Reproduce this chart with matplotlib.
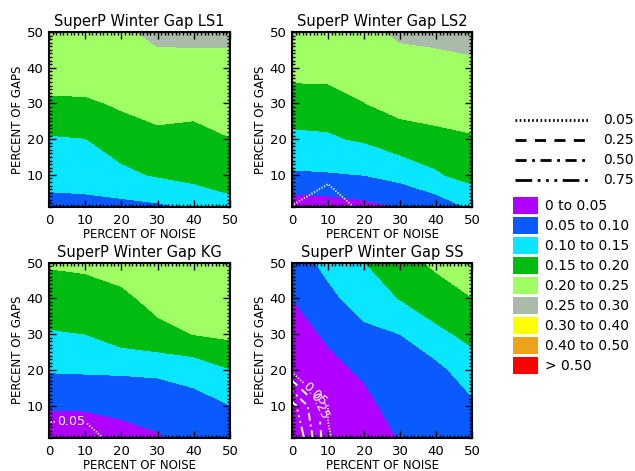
import numpy as np
import matplotlib.pyplot as plt
from matplotlib.patches import Rectangle

# grid: columns = percent of noise, rows = percent of gaps
noise = [0, 10, 20, 30, 40, 50]
gaps = [1, 10, 20, 30, 40, 50]

ls1 = [[0.080, 0.080, 0.085, 0.092, 0.105, 0.130],
       [0.122, 0.129, 0.141, 0.154, 0.167, 0.179],
       [0.145, 0.149, 0.169, 0.190, 0.185, 0.198],
       [0.190, 0.190, 0.208, 0.215, 0.214, 0.238],
       [0.235, 0.240, 0.235, 0.240, 0.240, 0.245],
       [0.245, 0.248, 0.245, 0.257, 0.2575, 0.2538]]

ls2 = [[0.019, 0.026, 0.036, 0.0505, 0.070, 0.1075],
       [0.095, 0.096, 0.1007, 0.116, 0.145, 0.167],
       [0.131, 0.145, 0.155, 0.177, 0.176, 0.195],
       [0.1965, 0.169, 0.199, 0.217, 0.239, 0.226],
       [0.2025, 0.226, 0.224, 0.235, 0.245, 0.245],
       [0.230, 0.245, 0.240, 0.2564, 0.254, 0.2593]]

kg = [[0.030, 0.030, 0.035, 0.048, 0.055, 0.060],
      [0.053, 0.054, 0.061, 0.0586, 0.080, 0.099],
      [0.104, 0.106, 0.107, 0.112, 0.120, 0.148],
      [0.145, 0.150, 0.175, 0.187, 0.201, 0.210],
      [0.181, 0.180, 0.190, 0.214, 0.230, 0.230],
      [0.204, 0.209, 0.220, 0.230, 0.240, 0.240]]

ss = [[0.010, 0.015, 0.030, 0.052, 0.060, 0.070],
      [0.015, 0.025, 0.040, 0.065, 0.070, 0.090],
      [0.025, 0.040, 0.0554, 0.080, 0.0844, 0.130],
      [0.035, 0.055, 0.090, 0.100, 0.140, 0.161],
      [0.050, 0.090, 0.1186, 0.1521, 0.173, 0.1995],
      [0.080, 0.111, 0.149, 0.180, 0.210, 0.220]]

# second field drawn as white contour lines
ls1_sig = [[0, 0, 0, 0, 0, 0],
           [0, 0, 0, 0, 0, 0],
           [0, 0, 0, 0, 0, 0],
           [0, 0, 0, 0, 0, 0],
           [0, 0, 0, 0, 0, 0],
           [0, 0, 0, 0, 0, 0]]

ls2_sig = [[0.052, 0.10, 0.03, 0, 0, 0],
           [0.010, 0.03, 0, 0, 0, 0],
           [0, 0, 0, 0, 0, 0],
           [0, 0, 0, 0, 0, 0],
           [0, 0, 0, 0, 0, 0],
           [0, 0, 0, 0, 0, 0]]

kg_sig = [[0.10, 0.10, 0, 0, 0, 0],
          [0, 0, 0, 0, 0, 0],
          [0, 0, 0, 0, 0, 0],
          [0, 0, 0, 0, 0, 0],
          [0, 0, 0, 0, 0, 0],
          [0, 0, 0, 0, 0, 0]]

ss_sig = [[1.10, 0.055, 0, 0, 0, 0],
          [0.85, 0.045, 0, 0, 0, 0],
          [0, 0, 0, 0, 0, 0],
          [0, 0, 0, 0, 0, 0],
          [0, 0, 0, 0, 0, 0],
          [0, 0, 0, 0, 0, 0]]

titles = ['SuperP Winter Gap LS1', 'SuperP Winter Gap LS2',
          'SuperP Winter Gap KG', 'SuperP Winter Gap SS']
fields = [ls1, ls2, kg, ss]
sig_fields = [ls1_sig, ls2_sig, kg_sig, ss_sig]
# label positions for the line contours (level, x, y)
sig_labels = [[], [], [(0.05, 6, 5.5)], [(0.05, 6.5, 13.5), (0.25, 7.5, 10)]]

fill_levels = [0, 0.05, 0.10, 0.15, 0.20, 0.25, 0.30, 0.40, 0.50, 10]
fill_colors = ['#b000ff', '#0a5aff', '#0ae6ff', '#00bb10', '#a0ff64',
               '#aabbaa', '#ffff00', '#eaa31a', '#ff0000']
fill_names = ['0 to 0.05', '0.05 to 0.10', '0.10 to 0.15', '0.15 to 0.20',
              '0.20 to 0.25', '0.25 to 0.30', '0.30 to 0.40', '0.40 to 0.50',
              '> 0.50']

line_levels = [0.05, 0.25, 0.50, 0.75]
line_names = ['0.05', '0.25', '0.50', '0.75']
line_styles = [(0, (0.6, 0.9)), (0, (4, 3)), (0, (4, 2, 1, 2)),
               (0, (6, 2, 1, 2, 1, 2, 1, 2))]

fig = plt.figure(figsize=(6.35, 4.71), dpi=100)

W, H = 635.0, 471.0
boxes = [(49, 32, 181, 175), (292, 32, 180, 175),
         (49, 262.5, 181, 175.5), (292, 262.5, 180, 175.5)]

X, Y = np.meshgrid(noise, gaps)

for i in range(4):
    bx, by, bw, bh = boxes[i]
    ax = fig.add_axes([bx / W, 1 - (by + bh) / H, bw / W, bh / H])
    Z = np.array(fields[i])
    ax.contourf(X, Y, Z, levels=fill_levels, colors=fill_colors)

    S = np.array(sig_fields[i], dtype=float)
    for lev, lsty in zip(line_levels, line_styles):
        if S.max() <= lev:
            continue
        cs = ax.contour(X, Y, S, levels=[lev], colors='white',
                        linestyles=[lsty], linewidths=1.4)
        pos = [(px, py) for (lv, px, py) in sig_labels[i] if lv == lev]
        if pos:
            ax.clabel(cs, fmt='%.2f', manual=pos, fontsize=9, colors='white',
                      inline=True, inline_spacing=2)

    ax.set_xlim(0, 50)
    ax.set_ylim(1, 50)
    ax.set_xticks([0, 10, 20, 30, 40, 50])
    ax.set_yticks([10, 20, 30, 40, 50])
    ax.set_xticks(np.arange(0, 51, 1), minor=True)
    ax.set_yticks(np.arange(1, 51, 1), minor=True)
    ax.tick_params(which='both', direction='in', top=True, right=True,
                   labelsize=9.5, width=1, color='black')
    ax.tick_params(which='major', length=5)
    ax.tick_params(axis='x', which='major', pad=5)
    ax.tick_params(axis='y', which='major', pad=4)
    ax.tick_params(which='minor', length=2.5)
    for sp in ax.spines.values():
        sp.set_linewidth(1.5)
    ax.set_title(titles[i], fontsize=10.5, pad=4)
    ax.set_xlabel('PERCENT OF NOISE', fontsize=8.5, labelpad=0.5)
    ax.set_ylabel('PERCENT OF GAPS', fontsize=8.5, labelpad=2)

# legend drawn in pixel coordinates
leg = fig.add_axes([0, 0, 1, 1])
leg.set_xlim(0, W)
leg.set_ylim(H, 0)
leg.axis('off')

for k in range(len(line_levels)):
    yy = 120 + k * 20
    leg.plot([515, 588], [yy, yy], color='black', linewidth=2,
             linestyle=line_styles[k])
    leg.text(603, yy, line_names[k], fontsize=10, va='center', ha='left')

for k in range(len(fill_names)):
    yy = 197 + k * 20
    leg.add_patch(Rectangle((513, yy), 25, 16.5, facecolor=fill_colors[k],
                            edgecolor='none'))
    leg.text(545, yy + 8.5, fill_names[k], fontsize=10, va='center', ha='left')

fig.savefig('out.png', dpi=100)
